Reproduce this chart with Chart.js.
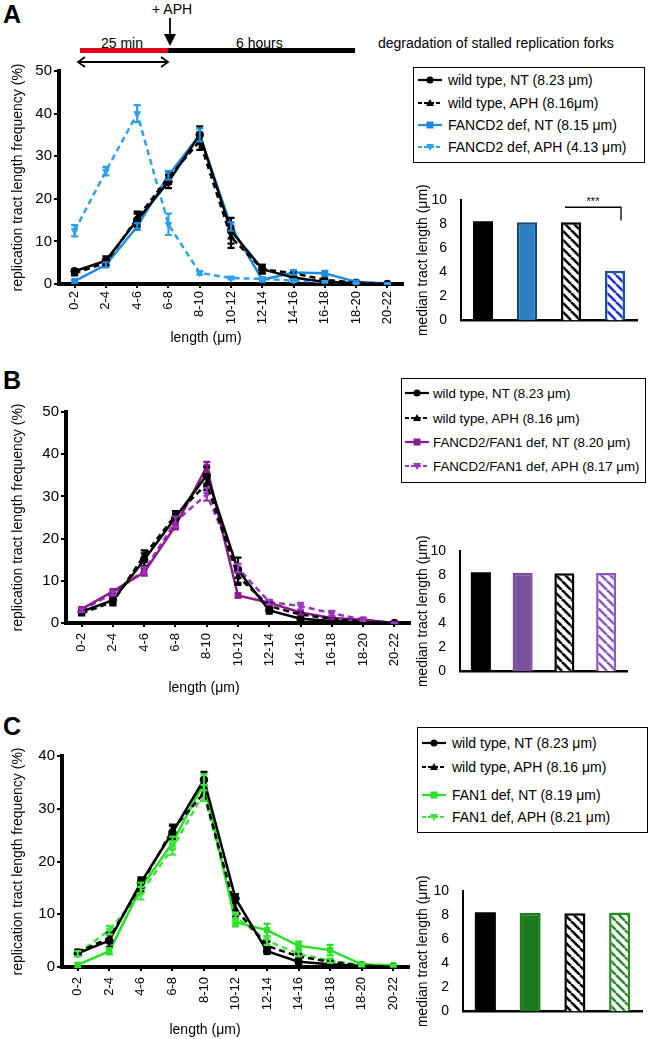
<!DOCTYPE html>
<html>
<head>
<meta charset="utf-8">
<script src="https://cdn.jsdelivr.net/npm/chart.js@4"></script>
<style>
  body { margin: 0; background: #fff; font-family: "Liberation Sans", Arial, sans-serif; color: #000; }
  #page { position: relative; width: 650px; height: 1039px; overflow: hidden; }
  canvas { position: absolute; }
  .txt { position: absolute; font-size: 14px; white-space: nowrap; }
  .panel { position: absolute; font-weight: bold; font-size: 25px; }
  .xt { position: absolute; font-size: 14px; white-space: nowrap; transform: translateX(-50%); }
  .legend { position: absolute; border: 1.5px solid #000; box-sizing: border-box; background: #fff; }
  .legend .row { position: absolute; left: 3px; height: 18px; font-size: 14px; white-space: nowrap; display: flex; align-items: center; }
  .legend svg { margin-right: 5px; }
  #legB .row { font-size: 13.3px; left: 2px; }
  #legB svg { margin-right: 3px; }
</style>
</head>
<body>
<div id="page">
  <div class="panel" style="left:3px;top:0px">A</div>
  <div class="panel" style="left:3px;top:366px">B</div>
  <div class="panel" style="left:3px;top:712px">C</div>

  <!-- treatment scheme -->
  <div class="txt" style="left:152px;top:1px">+ APH</div>
  <svg style="position:absolute;left:160px;top:16px" width="20" height="32">
    <line x1="10" y1="2" x2="10" y2="28" stroke="#000" stroke-width="1.8"/>
    <polygon points="4,18 16,18 10,30" fill="#000"/>
  </svg>
  <div class="txt" style="left:101px;top:35px">25 min</div>
  <div class="txt" style="left:236px;top:35px">6 hours</div>
  <div style="position:absolute;left:80px;top:48px;width:88px;height:5px;background:#e8001c"></div>
  <div style="position:absolute;left:168px;top:48px;width:187px;height:5px;background:#000"></div>
  <div class="txt" style="left:378px;top:35px">degradation of stalled replication forks</div>
  <svg style="position:absolute;left:74px;top:55px;z-index:2" width="100" height="14">
    <line x1="4" y1="7" x2="94" y2="7" stroke="#000" stroke-width="1.8"/>
    <polyline points="11,2 4,7 11,12" fill="none" stroke="#000" stroke-width="1.8"/>
    <polyline points="87,2 94,7 87,12" fill="none" stroke="#000" stroke-width="1.8"/>
  </svg>

  <canvas id="lineA" width="410" height="290" style="left:0;top:60px"></canvas>
  <canvas id="lineB" width="418" height="290" style="left:0;top:400px"></canvas>
  <canvas id="lineC" width="418" height="294" style="left:0;top:745px"></canvas>
  <canvas id="barA" width="245" height="150" style="left:400px;top:185px"></canvas>
  <canvas id="barB" width="240" height="150" style="left:400px;top:536px"></canvas>
  <canvas id="barC" width="250" height="150" style="left:400px;top:876px"></canvas>

  <div class="xt" style="left:206px;top:329px">length (μm)</div>
  <div class="xt" style="left:204px;top:679px">length (μm)</div>
  <div class="xt" style="left:205px;top:1021px">length (μm)</div>

  <div class="legend" id="legA" style="left:413px;top:67px;width:232px;height:96px"></div>
  <div class="legend" id="legB" style="left:401px;top:378px;width:245px;height:105px"></div>
  <div class="legend" id="legC" style="left:417px;top:727px;width:231px;height:106px"></div>
</div>

<script>
Chart.defaults.font.family = '"Liberation Sans", Arial, sans-serif';
Chart.defaults.color = '#000';

// ---- data ----
const lengthBins = ['0-2', '2-4', '4-6', '6-8', '8-10', '10-12', '12-14', '14-16', '16-18', '18-20', '20-22'];

// panel A
const wtNT_A      = [3, 5.5, 15, 24, 35, 12.5, 3.5, 1.5, 0.5, 0.2, 0];
const wtNT_A_err  = [0.5, 1, 1.5, 1.5, 2, 3, 1, 0.5, 0.3, 0.2, 0.1];
const wtAPH_A     = [2.5, 5, 15.5, 25, 33.5, 11, 3.5, 2.5, 1, 0.3, 0];
const wtAPH_A_err = [0.5, 0.8, 1.5, 1.5, 2, 2.5, 1, 0.5, 0.3, 0.2, 0.1];
const fd2NT_A     = [0.7, 4.5, 13.5, 25.5, 35, 13.5, 1, 2.7, 2.5, 0.5, 0.1];
const fd2NT_A_err = [0.3, 0.6, 0.8, 1, 1.5, 1, 0.5, 0.5, 0.6, 0.3, 0.1];
const fd2APH_A    = [12.5, 26.5, 40, 14, 2.6, 1.4, 1.2, 0.8, 0.5, 0.2, 0];
const fd2APH_A_err = [1.3, 1, 2, 2.5, 0.4, 0.3, 0.3, 0.3, 0.2, 0.1, 0.1];

// panel B
const wtNT_B      = [2.7, 5.4, 15, 25, 35, 12.5, 3, 1, 0.5, 0.2, 0];
const wtNT_B_err  = [0.5, 1, 1.5, 1, 2, 3, 0.8, 0.4, 0.3, 0.2, 0.1];
const wtAPH_B     = [2.3, 5, 16, 25.5, 33, 11, 4, 2, 1, 0.3, 0];
const wtAPH_B_err = [0.5, 0.8, 1.2, 1, 1.5, 2, 0.8, 0.5, 0.3, 0.2, 0.1];
const dblNT_B     = [3.3, 7.5, 12, 23, 37, 6.5, 4.8, 2.5, 1.2, 0.8, 0];
const dblNT_B_err = [0.4, 0.5, 0.8, 0.8, 1.2, 0.5, 0.5, 0.5, 0.3, 0.2, 0.1];
const dblAPH_B    = [3, 7, 12.5, 24, 30.5, 13, 5, 4, 2.3, 0.8, 0];
const dblAPH_B_err = [0.4, 0.5, 0.8, 1.2, 1.5, 1, 0.5, 0.8, 0.6, 0.3, 0.1];

// panel C
const wtNT_C      = [2.6, 5, 16, 25.5, 35.5, 13, 3, 1, 0.5, 0.2, 0];
const wtNT_C_err  = [0.5, 1.2, 1, 1.2, 1.5, 0.8, 0.5, 0.4, 0.3, 0.2, 0.1];
const wtAPH_C     = [2.8, 5.5, 15.5, 26, 33, 11, 4, 2, 1, 0.3, 0];
const wtAPH_C_err = [0.5, 1, 1.2, 1, 1.5, 1.5, 0.8, 0.5, 0.3, 0.2, 0.1];
const fan1NT_C    = [0.4, 3, 15, 23.5, 35, 8.5, 7, 4, 3.2, 0.5, 0.3];
const fan1NT_C_err = [0.4, 0.6, 1, 1.2, 1.5, 0.8, 1.2, 0.8, 1, 0.3, 0.2];
const fan1APH_C   = [2.5, 7, 14, 22.5, 33, 9.5, 5, 2.5, 1.2, 0.3, 0.2];
const fan1APH_C_err = [0.5, 0.8, 1.2, 1.2, 1.5, 0.8, 0.8, 0.5, 0.4, 0.2, 0.1];

// median tract length bars: wt NT, def NT, wt APH, def APH
const barGroups = ['wild type, NT', 'deficient, NT', 'wild type, APH', 'deficient, APH'];
const medianA = [8.23, 8.15, 8.16, 4.13];
const medianB = [8.23, 8.20, 8.16, 8.17];
const medianC = [8.23, 8.19, 8.16, 8.21];

const legendA = ['wild type, NT (8.23 μm)', 'wild type, APH (8.16μm)', 'FANCD2 def, NT (8.15 μm)', 'FANCD2 def, APH (4.13 μm)'];
const legendB = ['wild type, NT (8.23 μm)', 'wild type, APH (8.16 μm)', 'FANCD2/FAN1 def, NT (8.20 μm)', 'FANCD2/FAN1 def, APH (8.17 μm)'];
const legendC = ['wild type, NT (8.23 μm)', 'wild type, APH (8.16 μm)', 'FAN1 def, NT (8.19 μm)', 'FAN1 def, APH (8.21 μm)'];

// ---- helpers ----
const errorBars = {
  id: 'errorBars',
  afterDatasetsDraw(chart) {
    const ctx = chart.ctx, y = chart.scales.y;
    chart.data.datasets.forEach((ds, i) => {
      if (!ds.errors) return;
      const meta = chart.getDatasetMeta(i);
      ctx.save();
      ctx.strokeStyle = ds.borderColor;
      ctx.lineWidth = 2.2;
      ctx.setLineDash([]);
      meta.data.forEach((pt, j) => {
        const e = ds.errors[j];
        if (!e) return;
        const v = ds.data[j];
        const top = y.getPixelForValue(v + e), bot = y.getPixelForValue(Math.max(0, v - e));
        ctx.beginPath();
        ctx.moveTo(pt.x, top); ctx.lineTo(pt.x, bot);
        ctx.moveTo(pt.x - 3.5, top); ctx.lineTo(pt.x + 3.5, top);
        ctx.moveTo(pt.x - 3.5, bot); ctx.lineTo(pt.x + 3.5, bot);
        ctx.stroke();
      });
      ctx.restore();
    });
  }
};

function series(label, data, errors, color, marker, dashed) {
  return {
    label, data, errors, marker,
    borderColor: color, backgroundColor: color,
    borderWidth: 2.5,
    borderDash: dashed ? [6, 4] : [],
    pointStyle: marker === 'down' ? 'triangle' : marker,
    pointRotation: marker === 'down' ? 180 : 0,
    pointRadius: 3.8,
    pointBorderWidth: 1,
    tension: 0
  };
}

function lineChart(id, sets, yMax, g) {
  return new Chart(document.getElementById(id), {
    type: 'line',
    data: { labels: lengthBins, datasets: sets },
    options: {
      responsive: false,
      animation: false,
      layout: { padding: g.pad },
      plugins: { legend: { display: false }, tooltip: { enabled: false } },
      scales: {
        x: {
          offset: true,
          grid: { drawOnChartArea: false, color: '#000', lineWidth: 2, tickLength: 4 },
          border: { color: '#000', width: 4 },
          ticks: { autoSkip: false, minRotation: 90, maxRotation: 90, font: { size: 13 }, padding: g.xTickPad },
          afterFit: s => { s.height = g.xh; }
        },
        y: {
          min: 0, max: yMax,
          ticks: { stepSize: 10, font: { size: 15 }, padding: 2 },
          grid: { drawOnChartArea: false, color: '#000', lineWidth: 2, tickLength: 5 },
          border: { color: '#000', width: 4 },
          title: { display: true, text: 'replication tract length frequency (%)', font: { size: 14 }, padding: 0 },
          afterFit: s => { s.width = g.yw; }
        }
      }
    },
    plugins: [errorBars]
  });
}

function hatch(color) {
  const c = document.createElement('canvas');
  c.width = c.height = 9;
  const g = c.getContext('2d');
  g.fillStyle = '#fff';
  g.fillRect(0, 0, 9, 9);
  g.strokeStyle = color;
  g.lineWidth = 2.6;
  for (const o of [-9, 0, 9]) {
    g.beginPath(); g.moveTo(o, 0); g.lineTo(o + 9, 9); g.stroke();
  }
  return g.createPattern(c, 'repeat');
}

const significance = {
  id: 'significance',
  afterDraw(chart) {
    if (!chart.options.sigBracket) return;
    const { ctx, scales: { x, y } } = chart;
    const x1 = x.getPixelForValue(2) - 6, x2 = x.getPixelForValue(3) + 6;
    const yTop = y.getPixelForValue(9.4), yEnd = y.getPixelForValue(8.3);
    ctx.save();
    ctx.strokeStyle = '#000';
    ctx.lineWidth = 1.3;
    ctx.beginPath();
    ctx.moveTo(x1, yTop); ctx.lineTo(x2, yTop); ctx.lineTo(x2, yEnd);
    ctx.stroke();
    ctx.fillStyle = '#000';
    ctx.font = '11px "Liberation Sans", Arial';
    ctx.textAlign = 'center';
    ctx.fillText('***', (x1 + x2) / 2, yTop - 2);
    ctx.restore();
  }
};

function barChart(id, values, fills, borders, g, sig) {
  return new Chart(document.getElementById(id), {
    type: 'bar',
    data: {
      labels: barGroups,
      datasets: [{ data: values, backgroundColor: fills, borderColor: borders, borderWidth: [0, 2.5, 2.5, 2.5] }]
    },
    options: {
      responsive: false,
      animation: false,
      sigBracket: sig,
      layout: { padding: g.pad },
      datasets: { bar: { barPercentage: g.bp, categoryPercentage: 1 } },
      plugins: { legend: { display: false }, tooltip: { enabled: false } },
      scales: {
        x: {
          ticks: { display: false },
          grid: { display: false },
          border: { color: '#000', width: 2.5 },
          afterFit: s => { s.height = 0; }
        },
        y: {
          min: 0, max: 10,
          ticks: { stepSize: 2, font: { size: 14 }, padding: 6 },
          grid: { display: false },
          border: { color: '#000', width: 2 },
          title: { display: true, text: 'median tract length (μm)', font: { size: 14 }, padding: 0 },
          afterFit: s => { s.width = g.yw; }
        }
      }
    },
    plugins: [significance]
  });
}

function markerSvg(shape, color) {
  if (shape === 'circle') return `<circle cx="13" cy="8" r="3.5" fill="${color}"/>`;
  if (shape === 'triangle') return `<polygon points="9,11 17,11 13,4" fill="${color}"/>`;
  if (shape === 'rect') return `<rect x="9.5" y="4.5" width="7" height="7" fill="${color}"/>`;
  return `<polygon points="9,5 17,5 13,12" fill="${color}"/>`;
}

function buildLegend(id, sets, labels, rows) {
  const box = document.getElementById(id);
  labels.forEach((txt, i) => {
    const ds = sets[i];
    const dash = ds.borderDash.length ? 'stroke-dasharray="4 2"' : '';
    const row = document.createElement('div');
    row.className = 'row';
    row.style.top = (rows[i] - 9) + 'px';
    row.innerHTML = `<svg width="26" height="16"><line x1="1" y1="8" x2="25" y2="8" stroke="${ds.borderColor}" stroke-width="2.2" ${dash}/>${markerSvg(ds.marker, ds.borderColor)}</svg><span>${txt}</span>`;
    box.appendChild(row);
  });
}

// ---- panel A ----
const blueNT = '#1d8ce0', blueAPH = '#2fa0ec';
const setsA = [
  series('wt NT', wtNT_A, wtNT_A_err, '#000', 'circle', false),
  series('wt APH', wtAPH_A, wtAPH_A_err, '#000', 'triangle', true),
  series('FANCD2 NT', fd2NT_A, fd2NT_A_err, blueNT, 'rect', false),
  series('FANCD2 APH', fd2APH_A, fd2APH_A_err, blueAPH, 'down', true)
];
lineChart('lineA', setsA, 50, { pad: { left: 10, top: 10, right: 7, bottom: 16 }, yw: 49, xh: 50, xTickPad: 3 });
buildLegend('legA', setsA, legendA, [12, 35, 57, 79]);

barChart('barA', medianA,
  ['#000', '#2b7fc3', hatch('#000'), hatch('#1d35d8')],
  ['#000', '#19466e', '#000', '#1d4f9a'],
  { pad: { left: 15, top: 15, right: 8, bottom: 7 }, yw: 46, bp: 0.455 }, true);

// ---- panel B ----
const purpleNT = '#8e1a8e', purpleAPH = '#9b35c0';
const setsB = [
  series('wt NT', wtNT_B, wtNT_B_err, '#000', 'circle', false),
  series('wt APH', wtAPH_B, wtAPH_B_err, '#000', 'triangle', true),
  series('FANCD2/FAN1 NT', dblNT_B, dblNT_B_err, purpleNT, 'rect', false),
  series('FANCD2/FAN1 APH', dblAPH_B, dblAPH_B_err, purpleAPH, 'down', true)
];
lineChart('lineB', setsB, 50, { pad: { left: 10, top: 12, right: 8, bottom: 15 }, yw: 56, xh: 52, xTickPad: 6 });
buildLegend('legB', setsB, legendB, [14, 39, 63, 87]);

barChart('barB', medianB,
  ['#000', '#7a4f9c', hatch('#000'), hatch('#8a58c8')],
  ['#000', '#7a4f9c', '#000', '#8a58c8'],
  { pad: { left: 15, top: 15, right: 13, bottom: 7 }, yw: 45, bp: 0.48 }, false);

// ---- panel C ----
const greenNT = '#27e027', greenAPH = '#3ee63e';
const setsC = [
  series('wt NT', wtNT_C, wtNT_C_err, '#000', 'circle', false),
  series('wt APH', wtAPH_C, wtAPH_C_err, '#000', 'triangle', true),
  series('FAN1 NT', fan1NT_C, fan1NT_C_err, greenNT, 'rect', false),
  series('FAN1 APH', fan1APH_C, fan1APH_C_err, greenAPH, 'down', true)
];
lineChart('lineC', setsC, 40, { pad: { left: 10, top: 10, right: 9, bottom: 20 }, yw: 52, xh: 52, xTickPad: 6 });
buildLegend('legC', setsC, legendC, [15, 39, 67, 89]);

barChart('barC', medianC,
  ['#000', '#1e7a1e', hatch('#000'), hatch('#2a8a2a')],
  ['#000', '#1e7a1e', '#000', '#2a8a2a'],
  { pad: { left: 15, top: 15, right: 8, bottom: 7 }, yw: 48, bp: 0.47 }, false);
</script>
</body>
</html>
